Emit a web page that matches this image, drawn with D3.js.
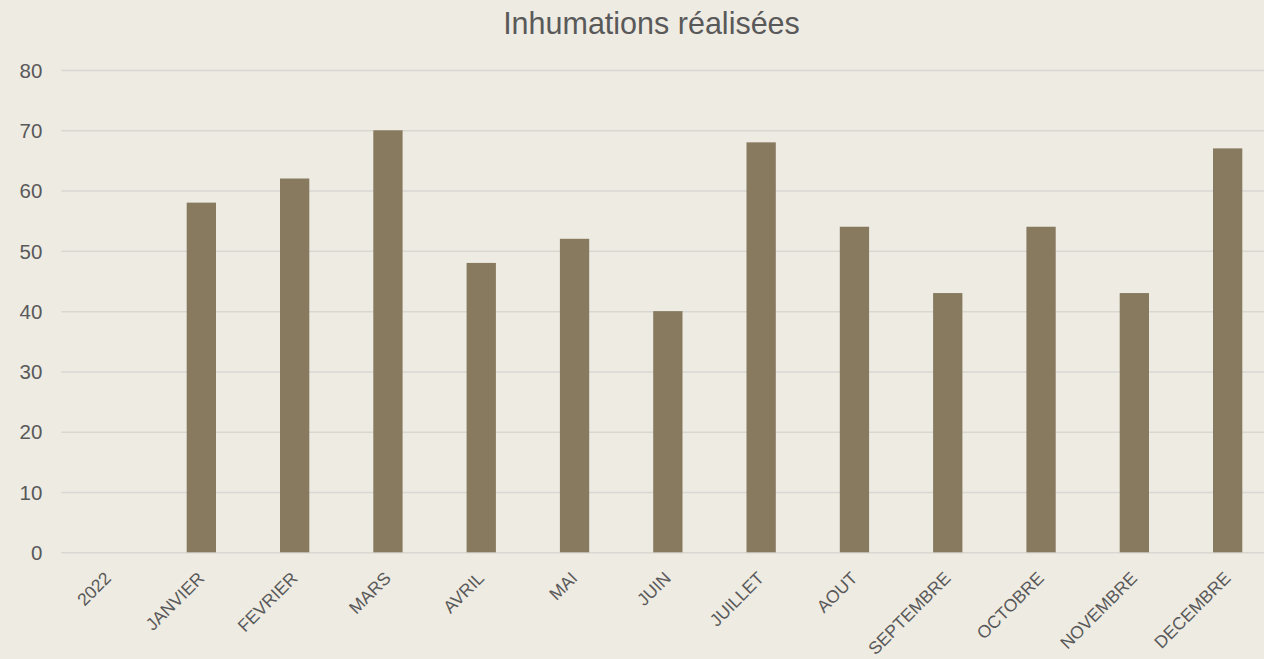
<!DOCTYPE html>
<html>
<head>
<meta charset="utf-8">
<script src="https://cdn.jsdelivr.net/npm/d3@7"></script>
<style>
  html, body { margin: 0; padding: 0; background: #EEEBE3; }
  svg { display: block; }
  text { font-family: "Liberation Sans", Arial, sans-serif; fill: #595959; }
</style>
</head>
<body>
<svg id="chart" width="1264" height="659"></svg>
<script>
const title = "Inhumations réalisées";
const categories = ["2022", "JANVIER", "FEVRIER", "MARS", "AVRIL", "MAI", "JUIN", "JUILLET", "AOUT", "SEPTEMBRE", "OCTOBRE", "NOVEMBRE", "DECEMBRE"];
const values = [null, 58, 62, 70, 48, 52, 40, 68, 54, 43, 54, 43, 67];
const yTicks = [0, 10, 20, 30, 40, 50, 60, 70, 80];

const W = 1264, H = 659;
const plot = { left: 61.4, right: 1274.3, top: 70, bottom: 552.3 };

const svg = d3.select("#chart");
svg.append("rect").attr("width", W).attr("height", H).attr("fill", "#EEEBE3");

const x = d3.scaleBand()
  .domain(categories)
  .range([plot.left, plot.right])
  .paddingInner(0.686)
  .paddingOuter(0.343);

const y = d3.scaleLinear()
  .domain([0, 80])
  .range([plot.bottom, plot.top]);

// Y axis with gridlines
const yAxis = svg.append("g")
  .attr("transform", `translate(${plot.left},0)`)
  .call(d3.axisLeft(y).tickValues(yTicks).tickSize(-(plot.right - plot.left)).tickPadding(19));
yAxis.select(".domain").remove();
yAxis.selectAll(".tick line").attr("stroke", "#D9D7D2").attr("stroke-width", 1.5);
yAxis.selectAll(".tick text")
  .attr("font-size", 20.5)
  .attr("fill", "#595959")
  .attr("dy", "0.35em")
  .style("font-family", "'Liberation Sans', Arial, sans-serif");

// Bars
const data = categories.map((c, i) => ({ c, v: values[i] }));
svg.append("g").selectAll("rect")
  .data(data.filter(d => d.v != null))
  .join("rect")
  .attr("x", d => x(d.c))
  .attr("y", d => y(d.v))
  .attr("width", x.bandwidth())
  .attr("height", d => y(0) - y(d.v))
  .attr("fill", "#887A5F");

// X axis labels
const xAxis = svg.append("g")
  .attr("transform", `translate(0,${plot.bottom})`)
  .call(d3.axisBottom(x).tickSize(0));
xAxis.select(".domain").remove();
xAxis.selectAll(".tick text")
  .attr("font-size", 17.5)
  .attr("fill", "#595959")
  .attr("text-anchor", "end")
  .attr("x", 4)
  .attr("y", 27)
  .attr("dy", 0)
  .attr("transform", "rotate(-45, 4, 27)")
  .style("font-family", "'Liberation Sans', Arial, sans-serif");

// Title
svg.append("text")
  .attr("x", 651.5)
  .attr("y", 33.5)
  .attr("text-anchor", "middle")
  .attr("font-size", 30.5)
  .attr("fill", "#595959")
  .text(title);
</script>
</body>
</html>
